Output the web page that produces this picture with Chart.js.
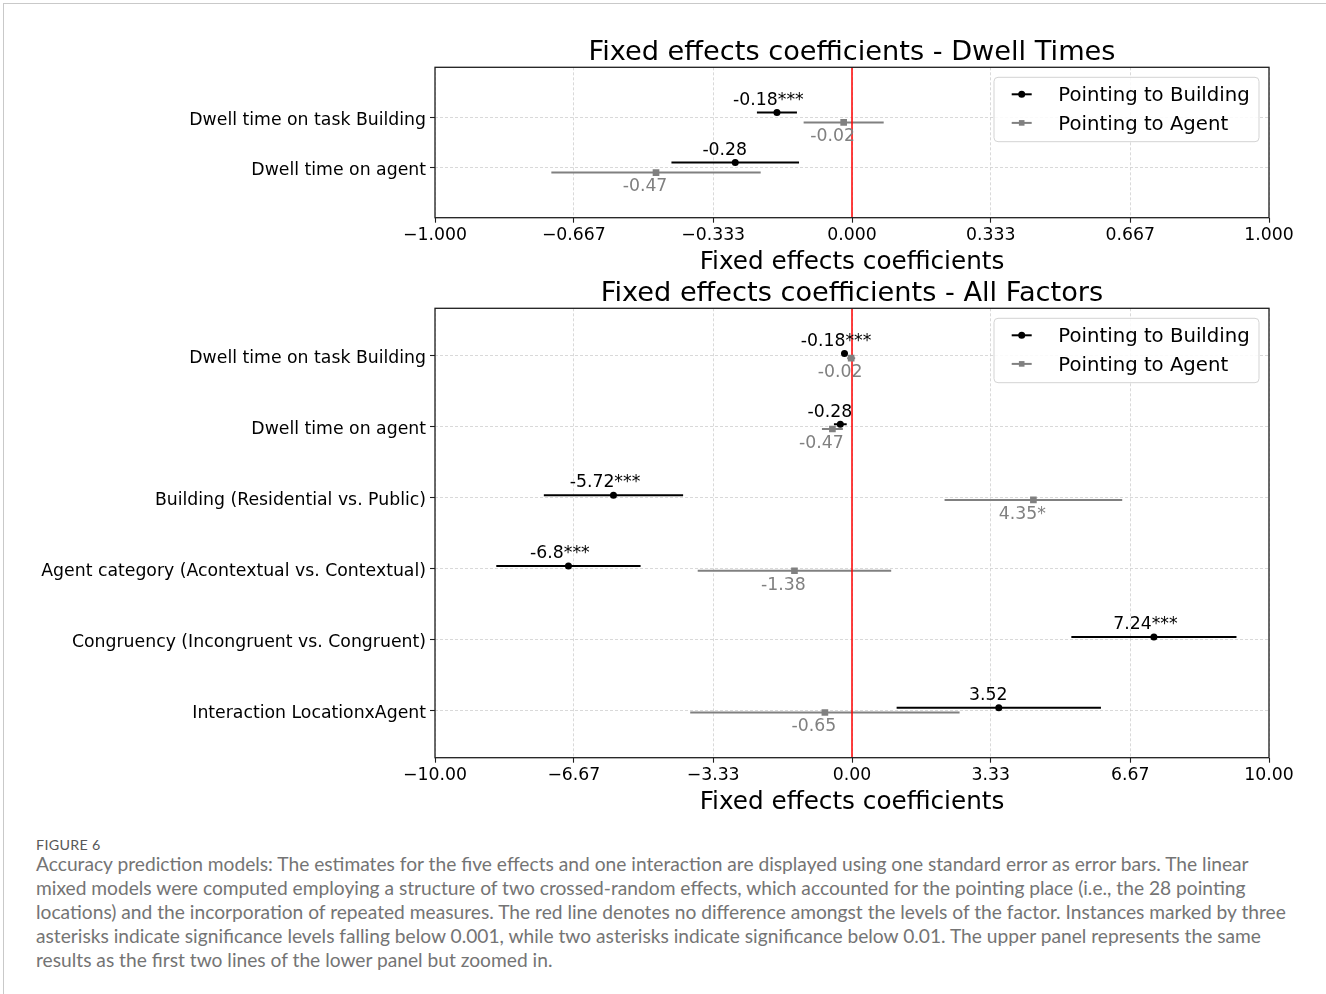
<!DOCTYPE html>
<html>
<head>
<meta charset="utf-8">
<script src="https://cdn.jsdelivr.net/npm/chart.js@4.4.1/dist/chart.umd.min.js"></script>
<style>
  html, body { margin: 0; padding: 0; background: #ffffff; }
  body { width: 1326px; height: 994px; position: relative; overflow: hidden; }
  #frame { position: absolute; left: 3px; top: 3px; width: 1340px; height: 1010px;
           border-top: 1.5px solid #c9c9c9; border-left: 1.5px solid #c9c9c9; }
  canvas { position: absolute; left: 0; }
  #dwell { top: 0; }
  #all { top: 275px; }
  #figlabel { position: absolute; left: 36px; top: 836px; font-family: Lato, sans-serif;
              font-size: 14.3px; color: #585858; letter-spacing: 0.3px; }
  #caption { position: absolute; left: 36px; top: 852px; font-family: Lato, sans-serif;
             color: #747474; line-height: 24px; }
  #caption div { white-space: nowrap; }
</style>
</head>
<body>
<div id="frame"></div>
<canvas id="dwell" width="1326" height="275"></canvas>
<canvas id="all" width="1326" height="550"></canvas>
<div id="figlabel">FIGURE 6</div>
<div id="caption"></div>
<script>
// Fixed-effect estimates (one standard error as error bars)
const categories = [
  'Dwell time on task Building',
  'Dwell time on agent',
  'Building (Residential vs. Public)',
  'Agent category (Acontextual vs. Contextual)',
  'Congruency (Incongruent vs. Congruent)',
  'Interaction LocationxAgent'
];
const seriesNames = ['Pointing to Building', 'Pointing to Agent'];

const buildingEstimates = [-0.18, -0.28, -5.72, -6.8, 7.24, 3.52];
const buildingErrors    = [0.048, 0.153, 1.67, 1.73, 1.98, 2.45];
const buildingStars     = ['***', '', '***', '***', '***', ''];

const agentEstimates = [-0.02, -0.47, 4.35, -1.38, null, -0.65];
const agentErrors    = [0.096, 0.251, 2.13, 2.32, null, 3.23];
const agentStars     = ['', '', '*', '', '', ''];

const dwellTickValues = [-1, -0.667, -0.333, 0, 0.333, 0.667, 1];
const dwellTickLabels = ['\u22121.000', '\u22120.667', '\u22120.333', '0.000', '0.333', '0.667', '1.000'];
const allTickValues = [-10, -6.67, -3.33, 0, 3.33, 6.67, 10];
const allTickLabels = ['\u221210.00', '\u22126.67', '\u22123.33', '0.00', '3.33', '6.67', '10.00'];

const panelTitles = ['Fixed effects coefficients - Dwell Times', 'Fixed effects coefficients - All Factors'];
const axisTitle = 'Fixed effects coefficients';

const captionLines = [
  'Accuracy prediction models: The estimates for the five effects and one interaction are displayed using one standard error as error bars. The linear',
  'mixed models were computed employing a structure of two crossed-random effects, which accounted for the pointing place (i.e., the 28 pointing',
  'locations) and the incorporation of repeated measures. The red line denotes no difference amongst the levels of the factor. Instances marked by three',
  'asterisks indicate significance levels falling below 0.001, while two asterisks indicate significance below 0.01. The upper panel represents the same',
  'results as the first two lines of the lower panel but zoomed in.'
];

// ---- styling ----
const FONT = '"DejaVu Sans", sans-serif';
const seriesStyles = [
  { est: buildingEstimates, err: buildingErrors, stars: buildingStars, color: '#000000', pointStyle: 'circle', radius: 3.5, side: -1 },
  { est: agentEstimates, err: agentErrors, stars: agentStars, color: '#808080', pointStyle: 'rect', radius: 4.7, side: 1 }
];

const decorPlugin = {
  id: 'decor',
  afterDraw(chart, args, o) {
    const { ctx, chartArea: a, scales: { x, y } } = chart;
    ctx.save();

    // value labels next to the markers
    ctx.font = '17.3px ' + FONT;
    ctx.textAlign = 'center';
    ctx.textBaseline = 'alphabetic';
    seriesStyles.forEach(s => {
      for (let i = 0; i < o.rows; i++) {
        const v = s.est[i];
        if (v === null) continue;
        const px = x.getPixelForValue(v);
        const py = y.getPixelForValue(i + s.side * o.offset);
        ctx.fillStyle = s.color;
        const txt = String(v) + s.stars[i];
        const shift = s.stars[i].length === 3 ? 2 : 0;
        if (s.side < 0) ctx.fillText(txt, px - 10.5 + shift, py - 7.8);
        else ctx.fillText(txt, px - 11 + shift, py + 18.9);
      }
    });

    // axes frame
    ctx.strokeStyle = '#1e1e1e';
    ctx.lineWidth = 1.3;
    ctx.strokeRect(a.left, a.top, a.right - a.left, a.bottom - a.top);

    // panel title and x-axis title
    const cx = (a.left + a.right) / 2;
    ctx.fillStyle = '#000000';
    ctx.textAlign = 'center';
    ctx.font = '27.2px ' + FONT;
    ctx.fillText(o.title, cx, a.top - 7.3);
    ctx.font = '24.7px ' + FONT;
    ctx.fillText(axisTitle, cx, a.bottom + 51);

    // legend (upper right, inside the axes)
    const lw = 265, lh = 64.4;
    const lx = a.right - 10 - lw, ly = a.top + 10;
    ctx.beginPath();
    ctx.roundRect(lx, ly, lw, lh, 4);
    ctx.fillStyle = 'rgba(255,255,255,0.85)';
    ctx.fill();
    ctx.strokeStyle = '#d3d3d3';
    ctx.lineWidth = 1;
    ctx.stroke();
    ctx.font = '19.7px ' + FONT;
    ctx.textAlign = 'left';
    ctx.textBaseline = 'middle';
    seriesStyles.forEach((s, k) => {
      const ry = ly + 17 + k * 28.6;
      ctx.strokeStyle = s.color;
      ctx.lineWidth = 2;
      ctx.beginPath();
      ctx.moveTo(lx + 17.7, ry);
      ctx.lineTo(lx + 37.7, ry);
      ctx.stroke();
      ctx.fillStyle = s.color;
      if (s.pointStyle === 'circle') {
        ctx.beginPath();
        ctx.arc(lx + 27.7, ry, 3.5, 0, Math.PI * 2);
        ctx.fill();
      } else {
        ctx.fillRect(lx + 27.7 - 2.8, ry - 2.8, 5.6, 5.6);
      }
      ctx.fillStyle = '#000000';
      ctx.fillText(seriesNames[k], lx + 64.3, ry + 2);
    });
    ctx.restore();
  }
};

function buildPanel(canvasId, cfg) {
  const rows = cfg.rows;
  const cats = categories.slice(0, rows);
  const datasets = [];

  // zero reference line
  datasets.push({
    data: [{ x: 0, y: cfg.yMin }, { x: 0, y: cfg.yMax }],
    showLine: true, borderColor: '#ff0000', borderWidth: 1.5,
    pointRadius: 0, order: 1
  });

  seriesStyles.forEach(s => {
    // error bars
    for (let i = 0; i < rows; i++) {
      const v = s.est[i];
      if (v === null) continue;
      const yy = i + s.side * cfg.offset;
      datasets.push({
        data: [{ x: v - s.err[i], y: yy }, { x: v + s.err[i], y: yy }],
        showLine: true, borderColor: s.color, borderWidth: 2,
        pointRadius: 0, order: 2
      });
    }
    // estimate markers
    const pts = [];
    for (let i = 0; i < rows; i++) {
      if (s.est[i] !== null) pts.push({ x: s.est[i], y: i + s.side * cfg.offset });
    }
    datasets.push({
      data: pts, showLine: false,
      pointStyle: s.pointStyle, pointRadius: s.radius,
      backgroundColor: s.color, borderColor: s.color, borderWidth: 0,
      order: 0
    });
  });

  const gridOpts = {
    color: '#cfcfcf', lineWidth: 0.8,
    borderDash: [3, 2],
    tickLength: 5, tickColor: '#1e1e1e', tickWidth: 1.1, tickBorderDash: []
  };

  const canvas = document.getElementById(canvasId);
  return new Chart(canvas, {
    type: 'scatter',
    data: { datasets },
    plugins: [decorPlugin],
    options: {
      responsive: false,
      animation: false,
      devicePixelRatio: 1,
      layout: { padding: { left: 0, right: 57, top: cfg.top, bottom: 0 } },
      plugins: {
        legend: { display: false },
        tooltip: { enabled: false },
        decor: { rows, offset: cfg.offset, title: cfg.title }
      },
      scales: {
        x: {
          type: 'linear', position: 'bottom',
          min: cfg.xMin, max: cfg.xMax,
          afterFit: sc => { sc.height = cfg.xAxisHeight; },
          afterBuildTicks: sc => { sc.ticks = cfg.tickValues.map(v => ({ value: v })); },
          ticks: {
            callback: (v, idx) => cfg.tickLabels[idx],
            font: { family: 'DejaVu Sans', size: 17.3 },
            color: '#000000', maxRotation: 0, autoSkip: false, padding: 2
          },
          grid: gridOpts,
          border: { display: false, dash: [3, 2] }
        },
        y: {
          type: 'linear', position: 'left', reverse: true,
          min: cfg.yMin, max: cfg.yMax,
          afterFit: sc => { sc.width = 435; },
          afterBuildTicks: sc => { sc.ticks = cats.map((c, i) => ({ value: i })); },
          ticks: {
            callback: (v, idx) => cats[idx],
            font: { family: 'DejaVu Sans', size: 17.3 },
            color: '#000000', autoSkip: false, padding: 4, labelOffset: 3
          },
          grid: gridOpts,
          border: { display: false, dash: [3, 2] }
        }
      }
    }
  });
}

buildPanel('dwell', {
  rows: 2, offset: 0.1, yMin: -1, yMax: 2,
  xMin: -1, xMax: 1, tickValues: dwellTickValues, tickLabels: dwellTickLabels,
  top: 67.3, xAxisHeight: 275 - 217.7, title: panelTitles[0]
});

buildPanel('all', {
  rows: 6, offset: 0.033, yMin: -0.67, yMax: 5.67,
  xMin: -10, xMax: 10, tickValues: allTickValues, tickLabels: allTickLabels,
  top: 33.3, xAxisHeight: 550 - 482.7, title: panelTitles[1]
});

// caption text
const cap = document.getElementById('caption');
captionLines.forEach(t => {
  const d = document.createElement('div');
  d.textContent = t;
  cap.appendChild(d);
});
const meas = document.createElement('canvas').getContext('2d');
meas.font = '100px Lato';
const w0 = meas.measureText(captionLines[0]).width;
cap.style.fontSize = (100 * 1217 / w0).toFixed(2) + 'px';
</script>
</body>
</html>
